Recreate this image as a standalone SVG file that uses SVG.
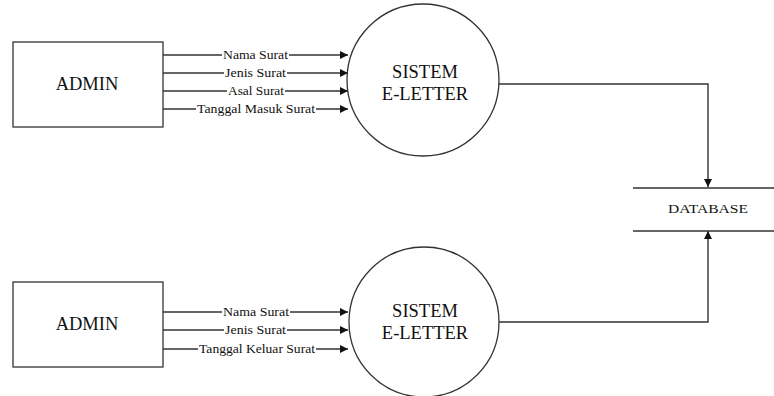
<svg xmlns="http://www.w3.org/2000/svg" width="774" height="396" viewBox="0 0 774 396">
<defs>
<marker id="ah" viewBox="0 0 10 10" refX="10" refY="5" markerWidth="10" markerHeight="8" markerUnits="userSpaceOnUse" orient="auto">
<path d="M0,0 L10,5 L0,10 Z" fill="#111"/>
</marker>
</defs>
<style>
.box{fill:#fff;stroke:#333;stroke-width:1.3}
.proc{fill:#fff;stroke:#333;stroke-width:1.3}
.ln{fill:none;stroke:#333;stroke-width:1.4}
.arr{fill:none;stroke:#333;stroke-width:1.4;marker-end:url(#ah)}
text{font-family:'Liberation Serif','DejaVu Serif',serif;fill:#111;text-anchor:middle}
.big{font-size:18.5px}
.lbl{font-size:12px}
.db{font-size:13px}
.bg{fill:#fff}
</style>
<rect width="774" height="396" fill="#fff"/>

<g id="connectors">
<line class="arr" x1="163" y1="55" x2="348" y2="55"/>
<line class="arr" x1="163" y1="73" x2="348" y2="73"/>
<line class="arr" x1="163" y1="91" x2="348" y2="91"/>
<line class="arr" x1="163" y1="109" x2="348" y2="109"/>
<line class="arr" x1="163" y1="312" x2="348" y2="312"/>
<line class="arr" x1="163" y1="330" x2="348" y2="330"/>
<line class="arr" x1="163" y1="349" x2="348" y2="349"/>
<polyline class="arr" points="499,84 708,84 708,187"/>
<polyline class="arr" points="499,322 708,322 708,231"/>

<rect class="bg" x="222" y="49" width="67" height="11"/>
<text class="lbl" x="255.5" y="59" textLength="65" lengthAdjust="spacingAndGlyphs">Nama Surat</text>
<rect class="bg" x="224" y="67" width="63" height="11"/>
<text class="lbl" x="255.5" y="77" textLength="61" lengthAdjust="spacingAndGlyphs">Jenis Surat</text>
<rect class="bg" x="227" y="85" width="58" height="11"/>
<text class="lbl" x="256" y="95" textLength="56" lengthAdjust="spacingAndGlyphs">Asal Surat</text>
<rect class="bg" x="196" y="103" width="120" height="11"/>
<text class="lbl" x="256" y="113" textLength="118" lengthAdjust="spacingAndGlyphs">Tanggal Masuk Surat</text>

<rect class="bg" x="222" y="306" width="68" height="11"/>
<text class="lbl" x="256" y="316" textLength="66" lengthAdjust="spacingAndGlyphs">Nama Surat</text>
<rect class="bg" x="224" y="324" width="63" height="11"/>
<text class="lbl" x="255.5" y="334" textLength="61" lengthAdjust="spacingAndGlyphs">Jenis Surat</text>
<rect class="bg" x="198" y="343" width="118" height="11"/>
<text class="lbl" x="257" y="353" textLength="116" lengthAdjust="spacingAndGlyphs">Tanggal Keluar Surat</text>
</g>

<g id="admin1">
<rect class="box" x="13" y="42" width="150" height="85"/>
<text class="big" x="87" y="90">ADMIN</text>
</g>

<g id="admin2">
<rect class="box" x="13" y="282" width="150" height="85"/>
<text class="big" x="87" y="330">ADMIN</text>
</g>

<g id="sistem1">
<circle class="proc" cx="423" cy="80" r="76"/>
<text class="big" x="425" y="78">SISTEM</text>
<text class="big" x="425" y="100">E-LETTER</text>
</g>

<g id="sistem2">
<circle class="proc" cx="424" cy="322" r="75"/>
<text class="big" x="425" y="317">SISTEM</text>
<text class="big" x="425" y="339">E-LETTER</text>
</g>

<g id="database">
<line class="ln" x1="633" y1="188" x2="774" y2="188"/>
<line class="ln" x1="633" y1="231" x2="774" y2="231"/>
<text class="db" x="708" y="213" textLength="80" lengthAdjust="spacingAndGlyphs">DATABASE</text>
</g>
</svg>
